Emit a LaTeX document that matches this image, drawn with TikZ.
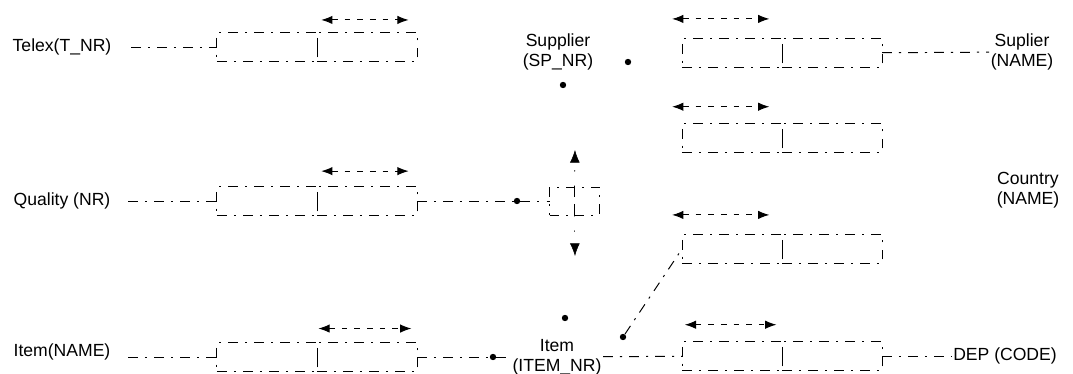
\documentclass[tikz,border=0pt]{standalone}
\usepackage{fontspec}
\setmainfont{Liberation Sans}
\usetikzlibrary{positioning,arrows.meta}

\begin{document}
\begin{tikzpicture}[
  x=0.025cm, y=-0.025cm,
  lbl/.style={font=\fontsize{12.5}{14}\selectfont, align=center, inner sep=1pt},
  faded/.style={line width=0.7pt, dash pattern=on 7pt off 5pt on 1.5pt off 5pt},
  role/.style={rectangle, draw, faded, minimum width=2.5cm, minimum height=0.72cm,
    inner sep=0pt, outer sep=0pt},
  midrole/.style={role, minimum width=0.625cm, minimum height=0.7cm},
  link/.style={draw, faded},
  uniq/.style={{Latex[length=8pt,width=6pt]}-{Latex[length=8pt,width=6pt]},
    line width=0.7pt, dash pattern=on 4pt off 5pt},
  tri/.style={-{Latex[length=9pt,width=7pt]}, line width=0.4pt, dash pattern=on 1pt off 10pt},
  blob/.style={circle, fill, inner sep=0pt, minimum size=0.16cm}]
  \useasboundingbox (0,0) rectangle (1073,374);
  % Left column: labels and their role boxes
  \node[lbl] (telex) at (62,47) {Telex(T\_NR)};
  \node[lbl] (quality) at (62,201) {Quality (NR)};
  \node[lbl] (itemname) at (62,352) {Item(NAME)};
  \node[role] (tx1) at (267,47) {};
  \node[role, right=0pt of tx1] (tx2) {};
  \node[role] (ql1) at (267,201) {};
  \node[role, right=0pt of ql1] (ql2) {};
  \node[role] (in1) at (267,357) {};
  \node[role, right=0pt of in1] (in2) {};
  \draw[link, shorten <=0.45cm] (telex.east) -- (tx1);
  \draw[link, shorten <=0.4cm] (quality.east) -- (ql1);
  \draw[link, shorten <=0.4cm] (itemname.east |- in1.west) -- (in1);
  \draw[uniq] ([xshift=3pt,yshift=9pt]tx2.north west) -- ([xshift=-6pt,yshift=9pt]tx2.north east);
  \draw[uniq] ([xshift=3pt,yshift=11pt]ql2.north west) -- ([xshift=-6pt,yshift=11pt]ql2.north east);
  \draw[uniq] ([xshift=1pt,yshift=10pt]in2.north west) -- ([xshift=-4pt,yshift=10pt]in2.north east);
  % Middle column: Supplier, Item and the central box
  \node[lbl] (supplier) at (558,52) {Supplier\\(SP\_NR)};
  \node[lbl] (item) at (557,357) {Item\\(ITEM\_NR)};
  \node[blob] (spdot1) at (628,62) {};
  \node[blob] (spdot2) at (563,85) {};
  \node[blob] (itdot1) at (565,318) {};
  \node[blob] (itdot2) at (623,337) {};
  \node[blob] (itdot3) at (493,357) {};
  \node[midrole] (sq1) at (562,201) {};
  \node[midrole, right=0pt of sq1] (sq2) {};
  \node[blob] (qdot) at (517,201) {};
  \coordinate (uptip) at (575,150);
  \coordinate (downtip) at (575,256);
  \draw[link] (ql2) -- (qdot) -- (sq1);
  \draw[tri] (sq1.north east) -- (uptip);
  \draw[tri] (sq1.south east) -- (downtip);
  \draw[link] (in2) -- (itdot3) -- (item);
  % Right column: role boxes and labels
  \node[role] (sn1) at (732,53) {};
  \node[role, right=0pt of sn1] (sn2) {};
  \node[role] (sc1) at (732,138) {};
  \node[role, right=0pt of sc1] (sc2) {};
  \node[role] (ic1) at (732,249) {};
  \node[role, right=0pt of ic1] (ic2) {};
  \node[role] (dp1) at (732,356) {};
  \node[role, right=0pt of dp1] (dp2) {};
  \node[lbl] (supname) at (1022,52) {Suplier\\(NAME)};
  \node[lbl] (country) at (1028,190) {Country\\(NAME)};
  \node[lbl] (dep) at (1005,356) {DEP (CODE)};
  \draw[uniq] ([xshift=-7pt,yshift=14pt]sn1.north west) -- ([xshift=-9pt,yshift=14pt]sn1.north east);
  \draw[uniq] ([xshift=-7pt,yshift=12pt]sc1.north west) -- ([xshift=-9pt,yshift=12pt]sc1.north east);
  \draw[uniq] ([xshift=-7pt,yshift=14pt]ic1.north west) -- ([xshift=-9pt,yshift=14pt]ic1.north east);
  \draw[uniq] ([xshift=2pt,yshift=12pt]dp1.north west) -- ([xshift=-4pt,yshift=12pt]dp1.north east);
  \draw[link] (sn2) -- (supname);
  \draw[link] (itdot2) -- (ic1.west);
  \draw[link] (item) -- (dp1);
  \draw[link] (dp2) -- (dep);
\end{tikzpicture}
\end{document}
